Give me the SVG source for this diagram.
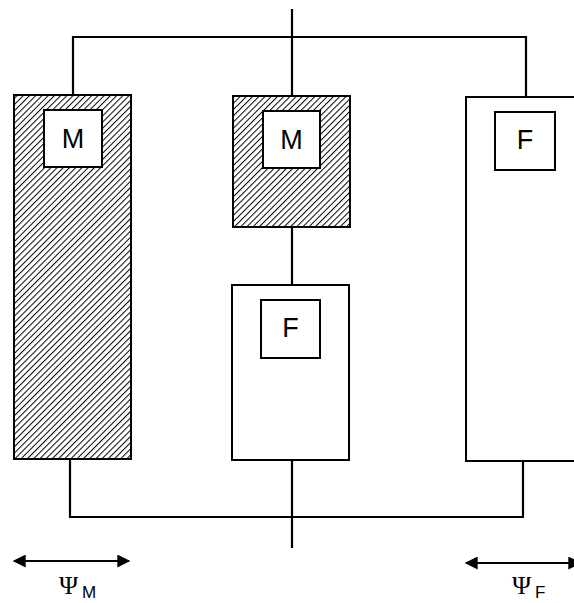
<svg xmlns="http://www.w3.org/2000/svg" width="574" height="603" viewBox="0 0 574 603">
<style>
.ln{stroke:#000;stroke-width:2.2;fill:none}
.box{stroke:#000;stroke-width:2;fill:#fff}
.hat{stroke:#000;stroke-width:2;fill:url(#hatch)}
.lbl{font-family:"Liberation Sans",Arial,sans-serif;font-size:27px;fill:#000;text-anchor:middle}
.psi{font-family:"Liberation Serif","Times New Roman",serif;font-size:26px;fill:#000}
.sub{font-family:"Liberation Sans",Arial,sans-serif;font-size:17px;fill:#000}
.arr{stroke:#000;stroke-width:2;fill:none;marker-start:url(#ah);marker-end:url(#ah)}
</style>
<defs>
<pattern id="hatch" patternUnits="userSpaceOnUse" width="4.4" height="4.4" patternTransform="rotate(45)">
<rect width="4.4" height="4.4" fill="#fff"/>
<line x1="0" y1="0" x2="0" y2="4.4" stroke="#000" stroke-width="2"/>
</pattern>
<marker id="ah" viewBox="0 0 10 10" refX="9" refY="5" markerWidth="16" markerHeight="13" markerUnits="userSpaceOnUse" orient="auto-start-reverse">
<path d="M0,0 L10,5 L0,10 Z" fill="#000"/>
</marker>
</defs>
<g id="connectors">
<line class="ln" x1="292" y1="9" x2="292" y2="548"/>
<polyline class="ln" points="73,95 73,37 526,37 526,97"/>
<polyline class="ln" points="70,459 70,517 523,517 523,461"/>
</g>
<g id="node-left-M">
<rect class="hat" x="14" y="95" width="117" height="364"/>
<rect class="box" x="44" y="110" width="58" height="57"/>
<text class="lbl" x="73" y="148">M</text>
</g>
<g id="node-mid-M">
<rect class="hat" x="233" y="96" width="117" height="131"/>
<rect class="box" x="263" y="111" width="57" height="57"/>
<text class="lbl" x="291.5" y="149">M</text>
</g>
<g id="node-mid-F">
<rect class="box" x="232" y="285" width="117" height="175"/>
<rect class="box" x="261" y="300" width="59" height="58"/>
<text class="lbl" x="290.5" y="337">F</text>
</g>
<g id="node-right-F">
<rect class="box" x="466" y="97" width="120" height="364"/>
<rect class="box" x="495" y="112" width="60" height="58"/>
<text class="lbl" x="525" y="149">F</text>
</g>
<g id="dim-M">
<line class="arr" x1="14" y1="561" x2="129" y2="561"/>
<text class="psi" x="59" y="594">Ψ</text><text class="sub" x="82" y="598">M</text>
</g>
<g id="dim-F">
<line class="arr" x1="466" y1="563" x2="580" y2="563"/>
<text class="psi" x="512" y="594">Ψ</text><text class="sub" x="535" y="598">F</text>
</g>
</svg>
